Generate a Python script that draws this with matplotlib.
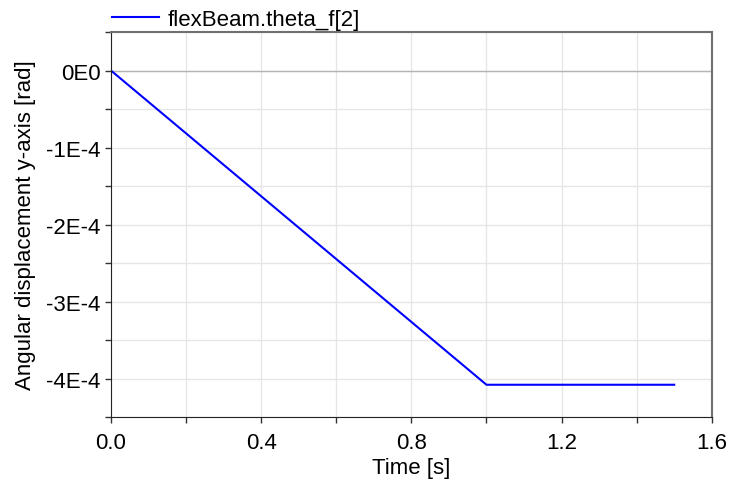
import matplotlib
matplotlib.use("Agg")
import matplotlib.pyplot as plt
from matplotlib.ticker import MultipleLocator, FuncFormatter

plt.rcParams['font.family'] = ['Liberation Sans', 'DejaVu Sans']

# angular displacement of the flexible beam end around the y axis
time = [0.0, 1.0, 1.5]
theta_f2 = [0.0, -4.08e-4, -4.08e-4]
series_label = "flexBeam.theta_f[2]"

fs = 16

fig = plt.figure(figsize=(7.3, 4.89), dpi=100)
ax = fig.add_axes([0.152, 0.145, 0.823, 0.7875])

ax.plot(time, theta_f2, color="#0000ff", lw=1.5, label=series_label)

ax.set_xlim(0, 1.6)
ax.set_ylim(-4.5e-4, 0.5e-4)
ax.xaxis.set_major_locator(MultipleLocator(0.4))
ax.xaxis.set_minor_locator(MultipleLocator(0.2))
ax.yaxis.set_major_locator(MultipleLocator(1e-4))
ax.yaxis.set_minor_locator(MultipleLocator(0.5e-4))
ax.xaxis.set_major_formatter(FuncFormatter(lambda v, p: f"{v:.1f}"))
ax.yaxis.set_major_formatter(FuncFormatter(lambda v, p: "0E0" if abs(v) < 1e-12 else f"{v * 1e4:.0f}E-4"))

ax.grid(which="both", color="#e6e6e6", lw=1)
ax.axhline(0, color="#b4b4b4", lw=1, zorder=1)
ax.set_axisbelow(True)

ax.tick_params(which="both", direction="out", length=4.5, width=1, labelsize=fs, color="#333333", pad=3)
ax.tick_params(axis="x", pad=6)
for s in ("left", "bottom"):
    ax.spines[s].set_color("#222222")
for s in ("top", "right"):
    ax.spines[s].set_color("#707070")
    ax.spines[s].set_linewidth(1.5)

ax.set_xlabel("Time [s]", fontsize=fs, labelpad=3)
ax.set_ylabel("Angular displacement y-axis [rad]", fontsize=fs, labelpad=7)

ax.legend(loc="lower left", bbox_to_anchor=(-0.002, 1.0), frameon=False,
          fontsize=fs, handlelength=2.1, handletextpad=0.4, borderaxespad=0,
          borderpad=0.1)

fig.savefig("out.png", dpi=100)
